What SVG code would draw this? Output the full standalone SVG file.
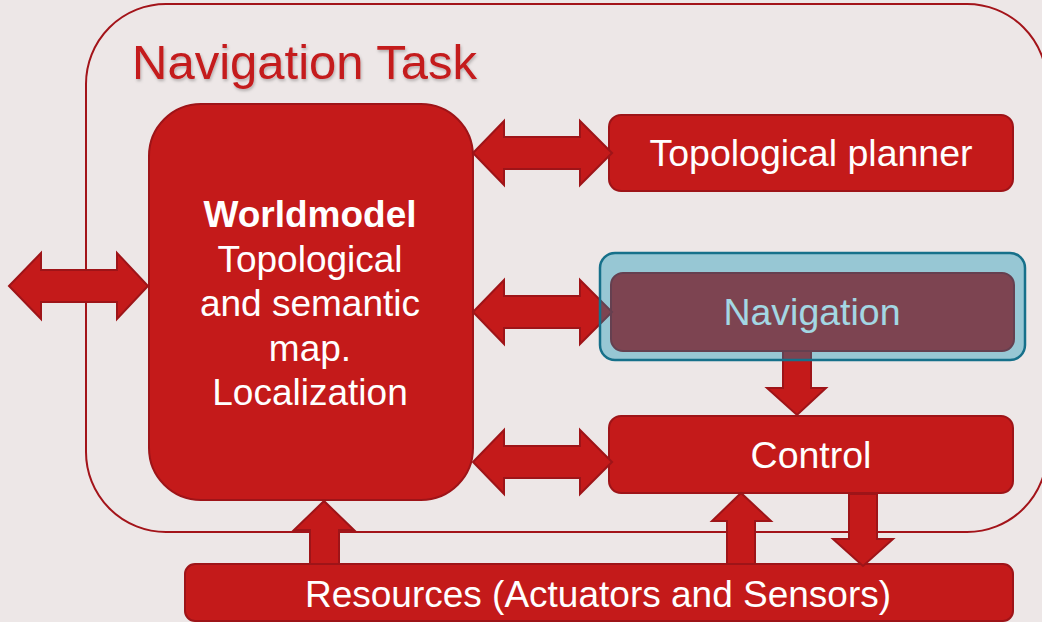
<svg xmlns="http://www.w3.org/2000/svg" width="1042" height="622" viewBox="0 0 1042 622">
  <defs>
    <style>
      .box { fill: #C41A1A; stroke: #9E1418; stroke-width: 2; }
      .arr { fill: #C41A1A; stroke: #9E1418; stroke-width: 2; stroke-linejoin: miter; }
      .lbl { font-family: "Liberation Sans", Arial, Helvetica, sans-serif; font-size: 37.5px; fill: #FFFFFF; text-anchor: middle; }
      .wm { font-size: 37px; }
      .title { font-family: "Liberation Sans", Arial, Helvetica, sans-serif; font-size: 49px; fill: #C41A1E; }
    </style>
    <filter id="shadow" x="-10%" y="-20%" width="120%" height="150%">
      <feDropShadow dx="1" dy="2" stdDeviation="1.5" flood-color="#000000" flood-opacity="0.25"/>
    </filter>
  </defs>
  <rect x="0" y="0" width="1042" height="622" fill="#EDE7E7"/>

  <g id="navigation-task">
    <rect x="86" y="4" width="961" height="528" rx="80" ry="80" fill="none" stroke="#A3141A" stroke-width="2"/>
    <text class="title" x="132" y="79" filter="url(#shadow)">Navigation Task</text>
  </g>

  <g id="worldmodel">
    <rect class="box" x="149" y="104" width="324" height="396" rx="52" ry="52"/>
    <text class="lbl wm" x="310" y="227" font-weight="bold">Worldmodel</text>
    <text class="lbl wm" x="310" y="272">Topological</text>
    <text class="lbl wm" x="310" y="316">and semantic</text>
    <text class="lbl wm" x="310" y="361">map.</text>
    <text class="lbl wm" x="310" y="405">Localization</text>
  </g>

  <g id="topological-planner">
    <rect class="box" x="609" y="115" width="404" height="76" rx="12" ry="12"/>
    <text class="lbl" x="811" y="166" font-size="37.8">Topological planner</text>
  </g>

  <g id="control">
    <rect class="box" x="609" y="416" width="404" height="77" rx="12" ry="12"/>
    <text class="lbl" x="811" y="468">Control</text>
  </g>

  <g id="resources">
    <rect class="box" x="185" y="564" width="828" height="57" rx="10" ry="10"/>
    <text class="lbl" x="598" y="607" style="font-size:37px">Resources (Actuators and Sensors)</text>
  </g>

  <g id="navigation-base">
    <rect class="box" x="611" y="273" width="403" height="78" rx="12" ry="12"/>
  </g>

  <g id="connectors">
    <!-- external <-> worldmodel -->
    <polygon class="arr" points="9,286 41,253 41,270 117,270 117,253 148,286 117,319 117,302 41,302 41,319"/>
    <!-- worldmodel <-> topological planner -->
    <polygon class="arr" points="473,153 504,121 504,137 580,137 580,121 612,153 580,185 580,169 504,169 504,185"/>
    <!-- worldmodel <-> navigation -->
    <polygon class="arr" points="473,312 504,280 504,296 580,296 580,280 612,312 580,344 580,328 504,328 504,344"/>
    <!-- worldmodel <-> control -->
    <polygon class="arr" points="473,462 504,430 504,446 580,446 580,430 612,462 580,494 580,478 504,478 504,494"/>
    <!-- navigation -> control -->
    <polygon class="arr" points="783,351 811,351 811,388 826,388 797,415 767,388 783,388"/>
    <!-- resources -> worldmodel -->
    <polygon class="arr" points="310,564 310,530 294,530 324,501 354,530 339,530 339,564"/>
    <!-- resources -> control -->
    <polygon class="arr" points="727,564 727,521 712,521 741,493 771,521 755,521 755,564"/>
    <!-- control -> resources -->
    <polygon class="arr" points="849,494 877,494 877,539 893,539 863,566 833,539 849,539"/>
  </g>

  <g id="navigation">
    <text class="lbl" x="812" y="325">Navigation</text>
    <rect x="600" y="253" width="425" height="107" rx="15" ry="15" fill="rgb(0,143,180)" fill-opacity="0.36" stroke="#16708A" stroke-width="2.5"/>
  </g>
</svg>
